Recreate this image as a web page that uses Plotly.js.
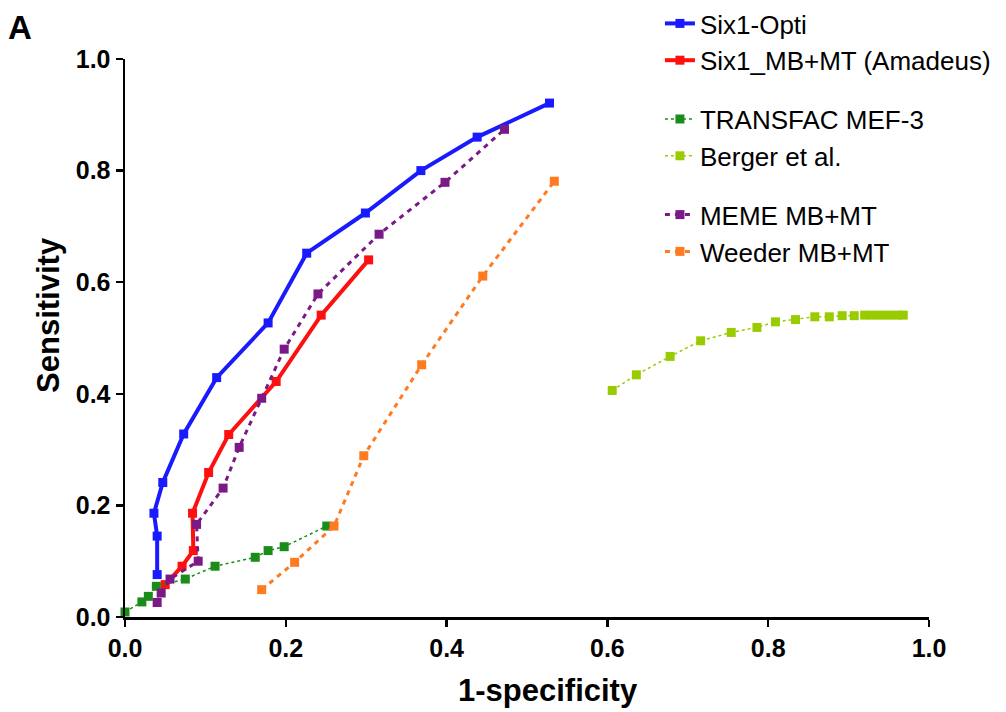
<!DOCTYPE html>
<html>
<head>
<meta charset="utf-8">
<script src="https://cdn.plot.ly/plotly-3.0.1.min.js"></script>
<style>html,body{margin:0;padding:0;background:#fff;}#chart{width:1006px;height:712px;}</style>
</head>
<body>
<div id="chart"></div>
<script>
// Six1-Opti
const opti_x = [0.040, 0.040, 0.036, 0.047, 0.073, 0.114, 0.178, 0.226, 0.299, 0.368, 0.438, 0.528];
const opti_y = [0.076, 0.145, 0.186, 0.241, 0.328, 0.429, 0.527, 0.652, 0.724, 0.800, 0.860, 0.921];
// Six1_MB+MT (Amadeus)
const amad_x = [0.050, 0.071, 0.085, 0.084, 0.104, 0.129, 0.188, 0.244, 0.303];
const amad_y = [0.058, 0.091, 0.119, 0.186, 0.259, 0.327, 0.422, 0.541, 0.640];
// TRANSFAC MEF-3
const tf_x = [0.000, 0.021, 0.029, 0.039, 0.075, 0.112, 0.162, 0.178, 0.198, 0.251];
const tf_y = [0.009, 0.027, 0.037, 0.055, 0.068, 0.091, 0.107, 0.119, 0.126, 0.163];
// Berger et al.
const berger_x = [0.606, 0.636, 0.678, 0.716, 0.754, 0.786, 0.809, 0.834, 0.858, 0.876, 0.892, 0.907, 0.920, 0.930, 0.940, 0.950, 0.960, 0.968];
const berger_y = [0.406, 0.434, 0.467, 0.495, 0.510, 0.519, 0.529, 0.533, 0.538, 0.538, 0.540, 0.540, 0.541, 0.541, 0.541, 0.541, 0.541, 0.541];
// MEME MB+MT
const meme_x = [0.040, 0.045, 0.056, 0.091, 0.089, 0.122, 0.142, 0.170, 0.198, 0.240, 0.316, 0.398, 0.472];
const meme_y = [0.026, 0.043, 0.068, 0.100, 0.166, 0.231, 0.304, 0.392, 0.480, 0.579, 0.686, 0.779, 0.874];
// Weeder MB+MT
const weeder_x = [0.170, 0.211, 0.260, 0.297, 0.369, 0.445, 0.534];
const weeder_y = [0.049, 0.098, 0.163, 0.289, 0.452, 0.611, 0.781];

const tickVals = [0, 0.2, 0.4, 0.6, 0.8, 1.0];
const tickText = ['0.0', '0.2', '0.4', '0.6', '0.8', '1.0'];

function tr(name, x, y, color, lw, dash, msize, group, rank) {
  return {
    type: 'scatter', mode: 'lines+markers', name: name, x: x, y: y,
    line: {color: color, width: lw, dash: dash},
    marker: {symbol: 'square', size: msize, color: color},
    cliponaxis: false, legendgroup: group, legendrank: rank
  };
}

const data = [
  tr('Six1-Opti', opti_x, opti_y, '#1a1aff', 4, 'solid', 9, 'a', 1),
  tr('Six1_MB+MT (Amadeus)', amad_x, amad_y, '#ff1010', 4, 'solid', 9, 'a', 2),
  tr('TRANSFAC MEF-3', tf_x, tf_y, '#1a8c1a', 1.5, 'dot', 9, 'b', 3),
  tr('Berger et al.', berger_x, berger_y, '#99cc00', 1.5, 'dot', 9, 'b', 4),
  tr('MEME MB+MT', meme_x, meme_y, '#7b1a86', 3, '5px,5px', 9, 'c', 5),
  tr('Weeder MB+MT', weeder_x, weeder_y, '#ff7b22', 3, '5px,5px', 9, 'c', 6)
];

const axisCommon = {
  range: [0, 1], tickvals: tickVals, ticktext: tickText,
  ticks: 'outside', ticklen: 7, tickwidth: 2.5, tickcolor: '#000',
  showline: true, linecolor: '#000', linewidth: 2.5, showgrid: false, zeroline: false,
  tickfont: {family: 'Liberation Sans, Arial, sans-serif', size: 25, color: '#000', weight: 'bold'},
  fixedrange: true, automargin: false
};

const layout = {
  width: 1006, height: 712,
  margin: {l: 125, r: 77, t: 59, b: 95, autoexpand: false},
  paper_bgcolor: '#fff', plot_bgcolor: '#fff',
  font: {family: 'Liberation Sans, Arial, sans-serif', color: '#000'},
  xaxis: Object.assign({}, axisCommon),
  yaxis: Object.assign({}, axisCommon),
  showlegend: true,
  legend: {
    xref: 'container', yref: 'container',
    x: 0.656, xanchor: 'left', y: 1.022, yanchor: 'top',
    traceorder: 'grouped', tracegroupgap: 22,
    font: {family: 'Liberation Sans, Arial, sans-serif', size: 26, color: '#000'},
    bgcolor: 'rgba(0,0,0,0)', itemwidth: 30
  },
  annotations: [
    {text: '<b>A</b>', xref: 'paper', yref: 'paper', x: -0.148, y: 1.057, xanchor: 'left', yanchor: 'middle', showarrow: false,
     font: {size: 33, family: 'Liberation Sans, Arial, sans-serif', color: '#000'}},
    {text: '<b>Sensitivity</b>', xref: 'paper', yref: 'paper', x: -0.096, y: 0.541, xanchor: 'center', yanchor: 'middle', textangle: -90, showarrow: false,
     font: {size: 31, family: 'Liberation Sans, Arial, sans-serif', color: '#000'}},
    {text: '<b>1-specificity</b>', xref: 'paper', yref: 'paper', x: 0.526, y: -0.131, xanchor: 'center', yanchor: 'middle', showarrow: false,
     font: {size: 31, family: 'Liberation Sans, Arial, sans-serif', color: '#000'}}
  ]
};

Plotly.newPlot('chart', data, layout, {displayModeBar: false, staticPlot: true});
</script>
</body>
</html>
